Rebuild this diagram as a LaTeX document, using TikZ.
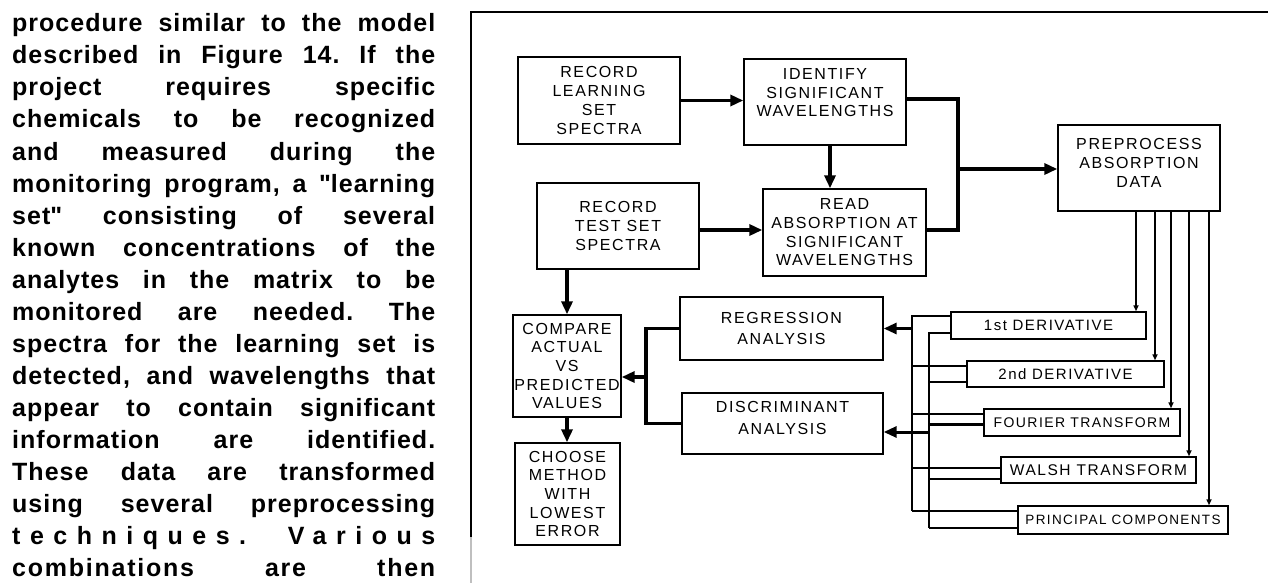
\documentclass[tikz,border=0pt]{standalone}
\usepackage{fontspec}
\setmainfont{Liberation Sans}
\newfontfamily\boxfont[LetterSpace=10]{Liberation Sans}
\usetikzlibrary{arrows.meta,positioning}

\newcommand{\jline}[1]{\makebox[423pt][s]{#1}}

\tikzset{
  bodyline/.style={anchor=base west, inner sep=0pt,
    font=\bfseries\fontsize{25}{32}\selectfont\addfontfeature{LetterSpace=4}\frenchspacing},
  box/.style={draw, line width=1.4pt, inner sep=0pt, align=center,
    font=\boxfont\fontsize{16}{18.7}\selectfont},
  boxtxt/.style={inner sep=0pt, align=center, font=\boxfont\fontsize{16}{18.7}\selectfont},
  tab/.style={box, font=\boxfont\fontsize{14}{16}\selectfont},
  flow/.style={line width=3.5pt, -{Triangle[length=13pt,width=11pt]}},
  bar/.style={line width=3.5pt},
  link/.style={line width=2.2pt},
  feed/.style={line width=1.6pt, -{Triangle[length=6pt,width=5pt]}},
  frame/.style={line width=1.6pt}
}

\begin{document}
\begin{tikzpicture}[x=1pt, y=-1pt]

  \path[use as bounding box, fill=white] (0,0) rectangle (1268,583);

  % text column
  \foreach \txt [count=\i from 0] in {
      {procedure similar to the model},
      {described in Figure 14. If the},
      {project requires specific},
      {chemicals to be recognized},
      {and measured during the},
      {monitoring program, a \textquotedbl learning},
      {set\textquotedbl\ consisting of several},
      {known concentrations of the},
      {analytes in the matrix to be},
      {monitored are needed. The},
      {spectra for the learning set is},
      {detected, and wavelengths that},
      {appear to contain significant},
      {information are identified.},
      {These data are transformed},
      {using several preprocessing},
      {\addfontfeature{LetterSpace=38}techniques. Various},
      {\addfontfeature{LetterSpace=7}combinations are then}}
    \node[bodyline] (line\i) at (12, 32+32*\i) {\jline{\txt}};

  % frame
  \draw[frame] (471,537) -- (471,12) -- (1268,12);
  \draw[frame, black!25] (471,537) -- (471,583);

  % boxes
  \node[box, minimum width=162pt, minimum height=87pt] (learn) at (599,100.5)
    {RECORD\\LEARNING\\SET\\SPECTRA};
  \node[box, minimum width=162pt, minimum height=86pt,
    label={[boxtxt, anchor=north, yshift=-10pt]north:IDENTIFY\\SIGNIFICANT\\WAVELENGTHS}] (ident) at (825,102) {};
  \node[box, minimum width=162pt, minimum height=86pt] (test) at (618,226)
    {RECORD\\TEST SET\\SPECTRA};
  \node[box, minimum width=163pt, minimum height=87pt] (read) at (844.5,232.5)
    {READ\\ABSORPTION AT\\SIGNIFICANT\\WAVELENGTHS};
  \node[box, minimum width=162pt, minimum height=86pt,
    label={[boxtxt, anchor=north, yshift=-14pt]north:PREPROCESS\\ABSORPTION\\DATA}] (prep) at (1139,168) {};
  \node[box, minimum width=108pt, minimum height=102pt] (compare) at (567,366)
    {COMPARE\\ACTUAL\\VS\\PREDICTED\\VALUES};
  \node[box, minimum width=105pt, minimum height=102pt] (choose) at (567.5,494)
    {CHOOSE\\METHOD\\WITH\\LOWEST\\ERROR};
  \node[box, minimum width=203pt, minimum height=63pt] (regr) at (781.5,328.5)
    {REGRESSION\\[3pt]ANALYSIS};
  \node[box, minimum width=201pt, minimum height=61pt,
    label={[boxtxt, anchor=north, yshift=-9pt]north:DISCRIMINANT\\[3pt]ANALYSIS}] (discr) at (782.5,423.5) {};

  \node[tab, minimum width=195pt, minimum height=27pt, font=\boxfont\fontsize{15}{16}\selectfont] (d1) at (1048.5,325.5) {1st DERIVATIVE};
  \node[tab, minimum width=197pt, minimum height=26pt, font=\boxfont\fontsize{15}{16}\selectfont] (d2) at (1065.5,374) {2nd DERIVATIVE};
  \node[tab, minimum width=196pt, minimum height=27pt] (four) at (1082,422.5) {FOURIER TRANSFORM};
  \node[tab, minimum width=195pt, minimum height=26pt, font=\boxfont\fontsize{15.5}{16}\selectfont] (walsh) at (1098.5,470) {WALSH TRANSFORM};
  \node[tab, minimum width=210pt, minimum height=28pt, font=\boxfont\fontsize{13.5}{16}\selectfont] (princ) at (1123,520) {PRINCIPAL COMPONENTS};

  % main flow
  \draw[flow] (learn.east) -- (learn.east -| ident.west);
  \coordinate (ib) at ([xshift=5pt]ident.south);
  \draw[flow] (ib) -- (ib |- read.north);
  \coordinate (tb) at ([yshift=-4pt]test.east);
  \draw[flow] (tb) -- (tb -| read.west);
  \coordinate (rj) at (958,169);
  \draw[bar] ([yshift=3pt]ident.east) -| (rj) |- ([yshift=2.5pt]read.east);
  \draw[flow] (rj) -- (rj -| prep.west);
  \draw[flow] (test.south -| compare.north) -- (compare.north);
  \draw[flow] (compare.south) -- (compare.south |- choose.north);

  % preprocessing outputs
  \foreach \px/\tg in {1136/d1, 1155/d2, 1171/four, 1189/walsh, 1209/princ}
    \draw[feed] (\px,0 |- prep.south) -- (\px,0 |- \tg.north);

  % two collecting buses
  \coordinate (obot) at (912,511);
  \coordinate (ibot) at (929,528);
  \foreach \tg/\a/\b in {d1/9.5/-7.5, d2/8/-8, four/8.5/-2, walsh/2/-9, princ/9/-8} {
    \draw[link] ([yshift=\a pt]\tg.west) -| (obot);
    \draw[link] ([yshift=\b pt]\tg.west) -| (ibot);
  }
  \draw[flow, line width=3pt] (regr.east -| obot) -- (regr.east);
  \coordinate (dj) at ([yshift=-8.5pt]discr.east);
  \draw[flow, line width=3pt] (dj -| ibot) -- (dj);

  % analyses to comparison
  \coordinate (cj) at (646,377);
  \draw[bar] (regr.west) -| (cj) |- (discr.west);
  \draw[flow] (cj) -- (cj -| compare.east);

\end{tikzpicture}
\end{document}
